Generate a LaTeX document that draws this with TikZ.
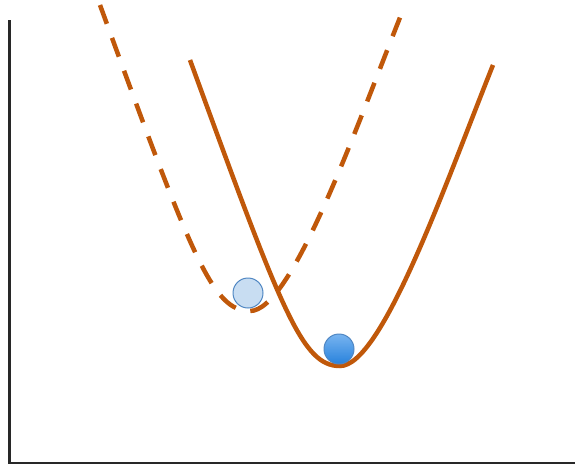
\documentclass[tikz,border=0pt]{standalone}
\usepackage{tikz}
\usetikzlibrary{calc,positioning}
\definecolor{BowlOrange}{RGB}{192,88,10}
\definecolor{AxisGray}{RGB}{40,40,40}
\definecolor{BallEdge}{RGB}{80,135,195}
\definecolor{BallPale}{RGB}{200,221,242}
\definecolor{BallTop}{RGB}{120,180,240}
\definecolor{BallBottom}{RGB}{40,130,220}
\newcommand{\bowlcurve}{(190,60) .. controls (282,312) and (302,366) .. (340,366)
  .. controls (382,366) and (445,185) .. (493,65)}

\begin{document}
\begin{tikzpicture}[x=1pt,y=-1pt,
    bowl/.style={line width=4.5pt,BowlOrange},
    ball/.style={circle,draw=BallEdge,line width=1pt,minimum size=30pt,inner sep=0pt}]
        \useasboundingbox (0,0) rectangle (575,466);
        \draw[line width=2.5pt,AxisGray] (9.5,20)--(9.5,463)--(575,463);
        % old bowl, shifted up and left
        \draw[bowl,dash pattern=on 20pt off 15pt,shift={(-90,-55)}] \bowlcurve;
        \draw[bowl] \bowlcurve;
        \node[ball,fill=BallPale] (oldball) at (248,293) {};
        \node[ball,top color=BallTop,bottom color=BallBottom] (newball) at (339,349) {};
      \end{tikzpicture}
\end{document}
